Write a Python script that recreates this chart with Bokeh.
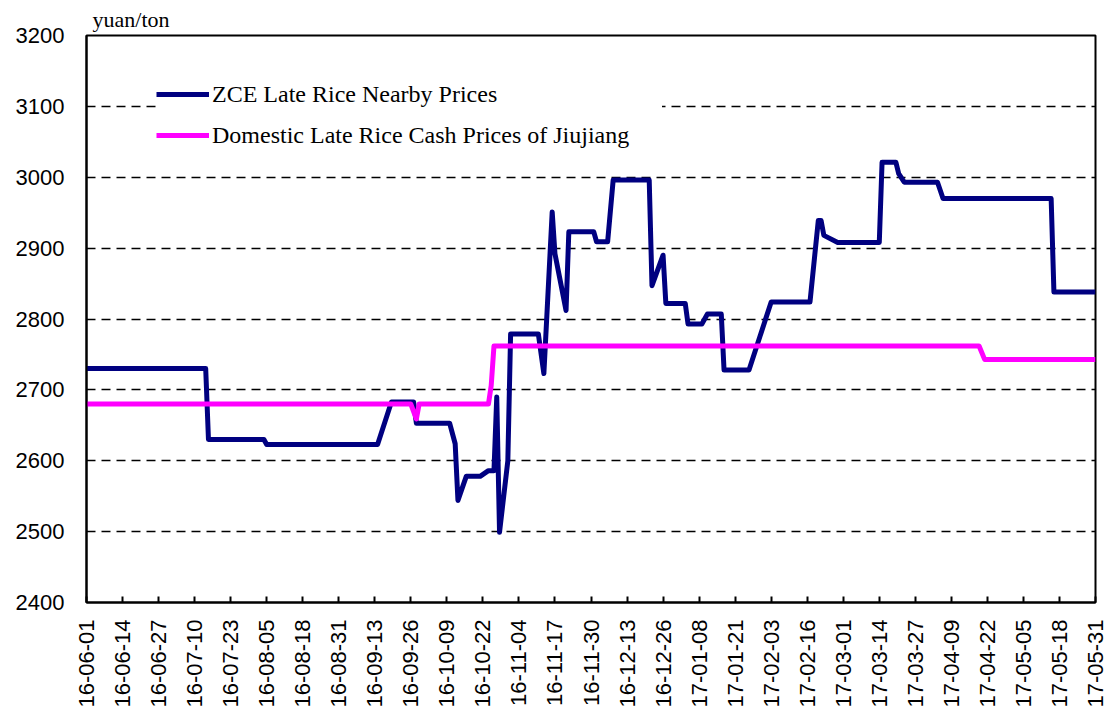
import pandas as pd
from datetime import datetime
from math import pi
from bokeh.plotting import figure
from bokeh.models import (Range1d, FixedTicker, DatetimeTickFormatter, Legend,
                          LegendItem)
from bokeh.embed import file_html
from bokeh.resources import INLINE

# ---------------- data ----------------
zce_dates = ["2016-06-01", "2016-07-14", "2016-07-15", "2016-08-04", "2016-08-05",
             "2016-09-14", "2016-09-19", "2016-09-27", "2016-09-28", "2016-10-10",
             "2016-10-12", "2016-10-13", "2016-10-16", "2016-10-21", "2016-10-24",
             "2016-10-26", "2016-10-27", "2016-10-28", "2016-10-31", "2016-11-01",
             "2016-11-11", "2016-11-13", "2016-11-16", "2016-11-17", "2016-11-21",
             "2016-11-22", "2016-12-01", "2016-12-02", "2016-12-06", "2016-12-08",
             "2016-12-21", "2016-12-22", "2016-12-26", "2016-12-27", "2017-01-03",
             "2017-01-04", "2017-01-09", "2017-01-11", "2017-01-16", "2017-01-17",
             "2017-01-26", "2017-02-03", "2017-02-17", "2017-02-20", "2017-02-21",
             "2017-02-22", "2017-02-27", "2017-03-14", "2017-03-15", "2017-03-20",
             "2017-03-21", "2017-03-23", "2017-04-04", "2017-04-06", "2017-05-15",
             "2017-05-16", "2017-05-31"]
zce_values = [2730, 2730, 2630, 2630, 2623, 2623, 2683, 2683, 2653, 2653,
              2624, 2544, 2578, 2578, 2586, 2586, 2690, 2499, 2600, 2779,
              2779, 2723, 2951, 2892, 2812, 2923, 2923, 2909, 2909, 2996,
              2996, 2847, 2890, 2822, 2822, 2793, 2793, 2807, 2807, 2728,
              2728, 2824, 2824, 2939, 2939, 2918, 2908, 2908, 3021, 3021,
              3005, 2993, 2993, 2970, 2970, 2838, 2838]

cash_dates = ["2016-06-01", "2016-09-26", "2016-09-28", "2016-09-29", "2016-10-24",
              "2016-10-25", "2016-10-26", "2017-04-19", "2017-04-21", "2017-05-31"]
cash_values = [2680, 2680, 2659, 2680, 2680, 2706, 2762, 2762, 2743, 2743]

tick_labels = ["16-06-01", "16-06-14", "16-06-27", "16-07-10", "16-07-23", "16-08-05",
               "16-08-18", "16-08-31", "16-09-13", "16-09-26", "16-10-09", "16-10-22",
               "16-11-04", "16-11-17", "16-11-30", "16-12-13", "16-12-26", "17-01-08",
               "17-01-21", "17-02-03", "17-02-16", "17-03-01", "17-03-14", "17-03-27",
               "17-04-09", "17-04-22", "17-05-05", "17-05-18", "17-05-31"]
y_ticks = [2400, 2500, 2600, 2700, 2800, 2900, 3000, 3100, 3200]

series_names = ["ZCE Late Rice Nearby Prices",
                "Domestic Late Rice Cash Prices of Jiujiang"]
unit_label = "yuan/ton"

# ---------------- figure ----------------
p = figure(frame_width=1009, frame_height=567, x_axis_type="datetime",
           output_backend="svg", toolbar_location=None,
           x_range=Range1d(datetime(2016, 6, 1), datetime(2017, 5, 31)),
           y_range=Range1d(2400, 3200),
           min_border_left=86, min_border_top=35, min_border_right=15,
           min_border_bottom=108)
p.background_fill_color = "white"
p.border_fill_color = "white"
p.outline_line_color = "black"
p.outline_line_width = 2
p.outline_line_alpha = 1

# unit label as the plot title (left aligned above the frame)
p.title.text = unit_label
p.title.align = "left"
p.title.offset = 6
p.title.standoff = 8
p.title.text_font = "Liberation Serif"
p.title.text_font_size = "22px"
p.title.text_font_style = "normal"
p.title.text_color = "black"

r1 = p.line(pd.to_datetime(zce_dates), zce_values, line_color="#000080",
            line_width=5, line_join="round")
r2 = p.line(pd.to_datetime(cash_dates), cash_values, line_color="#FF00FF",
            line_width=5, line_join="round")

# x axis
epoch = pd.Timestamp("1970-01-01")
tick_ms = [(pd.Timestamp("20" + t) - epoch) / pd.Timedelta(milliseconds=1)
           for t in tick_labels]
p.xaxis.ticker = FixedTicker(ticks=tick_ms)
fmt = "%y-%m-%d"
p.xaxis.formatter = DatetimeTickFormatter(
    microseconds=fmt, milliseconds=fmt, seconds=fmt, minsec=fmt, minutes=fmt,
    hourmin=fmt, hours=fmt, days=fmt, months=fmt, years=fmt)
p.xaxis.major_label_orientation = pi / 2
p.xaxis.major_label_text_font = "Liberation Sans"
p.xaxis.major_label_text_font_size = "22px"
p.xaxis.major_label_text_color = "black"
p.xaxis.major_tick_in = 6
p.xaxis.major_tick_out = 0
p.xaxis.minor_tick_in = 0
p.xaxis.minor_tick_out = 0
p.xaxis.major_tick_line_color = "black"
p.xaxis.major_tick_line_width = 2
p.xaxis.axis_line_color = "black"
p.xaxis.axis_line_width = 2
p.xaxis.major_label_standoff = 17

# y axis
p.yaxis.ticker = FixedTicker(ticks=y_ticks)
p.yaxis.major_label_text_font = "Liberation Sans"
p.yaxis.major_label_text_font_size = "22px"
p.yaxis.major_label_text_color = "black"
p.yaxis.major_tick_in = 0
p.yaxis.major_tick_out = 0
p.yaxis.minor_tick_in = 0
p.yaxis.minor_tick_out = 0
p.yaxis.axis_line_color = "black"
p.yaxis.axis_line_width = 2
p.yaxis.major_label_standoff = 22

# grid
p.xgrid.visible = False
p.ygrid.grid_line_color = "black"
p.ygrid.grid_line_dash = "9 6"
p.ygrid.grid_line_width = 1.5

# legend
legend = Legend(items=[LegendItem(label=series_names[0], renderers=[r1]),
                       LegendItem(label=series_names[1], renderers=[r2])],
                location=(70, 452), orientation="vertical",
                label_text_font="Liberation Serif", label_text_font_size="24px",
                label_text_color="black",
                glyph_width=53, glyph_height=30, label_height=30,
                label_width=450,
                label_standoff=3, spacing=11, padding=12, margin=0,
                border_line_color=None, background_fill_color="white",
                background_fill_alpha=1)
p.add_layout(legend)

open("out.html", "w").write(file_html(p, INLINE))
